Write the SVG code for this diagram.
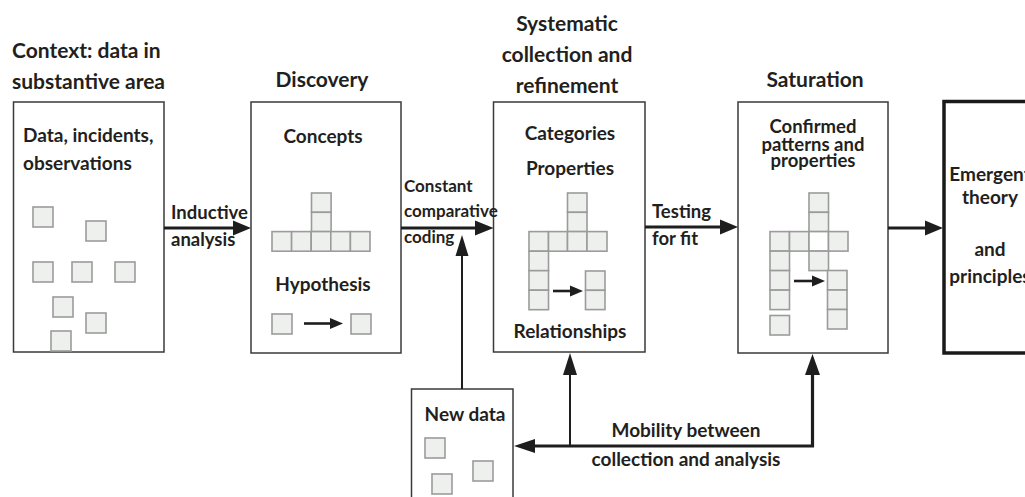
<svg xmlns="http://www.w3.org/2000/svg" width="1025" height="497" viewBox="0 0 1025 497">
  <style>
    text { font-family: Lato, "Open Sans", "Liberation Sans", sans-serif; font-weight: 700; font-size: 19px; fill: #231f20; }
    .title { font-size: 21px; }
    .label { font-size: 18.5px; }
    .label-sm { font-size: 17px; }
    .tight { font-size: 18.5px; }
    .mid { text-anchor: middle; }
    .box { fill: #ffffff; stroke: #3a3a3a; stroke-width: 1.5; }
    .box-final { fill: #ffffff; stroke: #1a1a1a; stroke-width: 3.5; }
    .sq { fill: #eef0ee; stroke: #9b9b9b; stroke-width: 1.6; }
    .sq-open { fill: #ffffff; stroke: #9b9b9b; stroke-width: 1.6; }
    .flow { fill: none; stroke: #1e1e1e; stroke-width: 3.2; }
    .flow-thin { fill: none; stroke: #1e1e1e; stroke-width: 2; }
    .flow-mini { fill: none; stroke: #1e1e1e; stroke-width: 2.6; }
    .head { fill: #1e1e1e; }
  </style>

  <!-- Stage 1: context -->
  <g id="context">
    <text class="title" x="12" y="58">Context: data in</text>
    <text class="title" x="12" y="89">substantive area</text>
    <rect class="box" x="13.5" y="102" width="150.5" height="250"/>
    <text x="23" y="142">Data, incidents,</text>
    <text x="23" y="170">observations</text>
    <rect class="sq" x="33" y="207" width="20" height="20"/>
    <rect class="sq" x="86" y="221" width="20" height="20"/>
    <rect class="sq" x="33" y="262" width="20" height="20"/>
    <rect class="sq" x="72" y="262" width="20" height="20"/>
    <rect class="sq" x="115" y="262" width="20" height="20"/>
    <rect class="sq" x="53" y="297" width="20" height="20"/>
    <rect class="sq" x="86" y="313" width="20" height="20"/>
    <rect class="sq" x="51" y="331" width="20" height="20"/>
  </g>

  <!-- Stage 2: discovery -->
  <g id="discovery">
    <text class="title mid" x="322" y="87">Discovery</text>
    <rect class="box" x="251" y="102" width="150" height="251"/>
    <text class="mid" x="323" y="143">Concepts</text>
    <rect class="sq" x="311.5" y="193" width="19.6" height="19.3"/>
    <rect class="sq" x="311.5" y="212.3" width="19.6" height="19.3"/>
    <rect class="sq" x="272" y="231.6" width="19.6" height="19.6"/>
    <rect class="sq" x="291.6" y="231.6" width="19.6" height="19.6"/>
    <rect class="sq" x="311.2" y="231.6" width="19.6" height="19.6"/>
    <rect class="sq" x="330.8" y="231.6" width="19.6" height="19.6"/>
    <rect class="sq" x="350.4" y="231.6" width="19.6" height="19.6"/>
    <text class="mid" x="323" y="291">Hypothesis</text>
    <rect class="sq" x="272" y="314" width="20" height="20"/>
    <rect class="sq" x="351" y="314" width="20" height="20"/>
    <line class="flow-mini" x1="304" y1="323.5" x2="332" y2="323.5"/>
    <polygon class="head" points="343,323.5 330,318 330,329"/>
  </g>

  <!-- Stage 3: systematic collection and refinement -->
  <g id="refinement">
    <text class="title mid" x="567" y="31">Systematic</text>
    <text class="title mid" x="567" y="62">collection and</text>
    <text class="title mid" x="567" y="93">refinement</text>
    <rect class="box" x="493.5" y="102" width="151.5" height="250"/>
    <text class="mid" x="570" y="140">Categories</text>
    <text class="mid" x="570" y="175">Properties</text>
    <rect class="sq" x="567.5" y="193" width="19.5" height="19.3"/>
    <rect class="sq" x="567.5" y="212.3" width="19.5" height="19.3"/>
    <rect class="sq" x="529" y="231.6" width="19.5" height="19.6"/>
    <rect class="sq" x="548.5" y="231.6" width="19" height="19.6"/>
    <rect class="sq" x="567.5" y="231.6" width="19.5" height="19.6"/>
    <rect class="sq" x="587" y="231.6" width="20" height="19.6"/>
    <rect class="sq" x="529" y="251.2" width="19.5" height="19.5"/>
    <rect class="sq" x="529" y="270.7" width="19.5" height="19.5"/>
    <rect class="sq" x="529" y="290.2" width="19.5" height="19.5"/>
    <rect class="sq" x="585.5" y="271" width="19.5" height="19.3"/>
    <rect class="sq" x="585.5" y="290.3" width="19.5" height="19.3"/>
    <line class="flow-mini" x1="553" y1="291" x2="572" y2="291"/>
    <polygon class="head" points="583,291 570,285.5 570,296.5"/>
    <text class="mid" x="570" y="338">Relationships</text>
  </g>

  <!-- Stage 4: saturation -->
  <g id="saturation">
    <text class="title mid" x="815" y="87">Saturation</text>
    <rect class="box" x="738" y="102" width="150" height="251"/>
    <text class="tight mid" x="813" y="133">Confirmed</text>
    <text class="tight mid" x="813" y="151">patterns and</text>
    <text class="tight mid" x="813" y="167">properties</text>
    <rect class="sq" x="809" y="193" width="19.5" height="19.3"/>
    <rect class="sq" x="809" y="212.3" width="19.5" height="19.3"/>
    <rect class="sq" x="770" y="231.6" width="19.5" height="19.5"/>
    <rect class="sq" x="789.5" y="231.6" width="19.5" height="19.5"/>
    <rect class="sq-open" x="809" y="231.6" width="19.5" height="19.5"/>
    <rect class="sq" x="828.5" y="231.6" width="19.5" height="19.5"/>
    <rect class="sq" x="809" y="251.1" width="19.5" height="19.5"/>
    <rect class="sq" x="770" y="251.1" width="19.5" height="19.5"/>
    <rect class="sq" x="770" y="270.6" width="19.5" height="19.5"/>
    <rect class="sq" x="770" y="290.1" width="19.5" height="19.5"/>
    <rect class="sq" x="770" y="315.5" width="19.5" height="19.5"/>
    <rect class="sq" x="827.5" y="270.5" width="19.5" height="19.5"/>
    <rect class="sq" x="827.5" y="290" width="19.5" height="19.5"/>
    <rect class="sq" x="827.5" y="309.5" width="19.5" height="19.5"/>
    <line class="flow-mini" x1="794" y1="281" x2="814" y2="281"/>
    <polygon class="head" points="825,281 812,275.5 812,286.5"/>
  </g>

  <!-- Stage 5: emergent theory -->
  <g id="theory">
    <rect class="box-final" x="944" y="101.5" width="100" height="251.5"/>
    <text class="mid" x="990" y="181">Emergent</text>
    <text class="mid" x="990" y="204">theory</text>
    <text class="mid" x="990" y="256">and</text>
    <text class="mid" x="990" y="283">principles</text>
  </g>

  <!-- New data -->
  <g id="new-data">
    <rect class="box" x="411.5" y="389" width="101.5" height="120"/>
    <text class="mid" x="465" y="421">New data</text>
    <rect class="sq" x="425" y="438" width="20" height="20"/>
    <rect class="sq" x="473" y="461" width="20" height="20"/>
    <rect class="sq" x="432" y="474" width="20" height="20"/>
  </g>

  <!-- Connectors -->
  <g id="connectors">
    <!-- Inductive analysis -->
    <line class="flow" x1="164" y1="228" x2="236" y2="228"/>
    <polygon class="head" points="251,228 233,220.5 233,235.5"/>
    <text class="label" x="171" y="219">Inductive</text>
    <text class="label" x="171" y="246">analysis</text>

    <!-- Constant comparative coding -->
    <line class="flow" x1="401" y1="228" x2="478" y2="228"/>
    <polygon class="head" points="493.5,228 475,220.5 475,235.5"/>
    <text class="label-sm" x="404" y="192">Constant</text>
    <text class="label-sm" x="404" y="217">comparative</text>
    <text class="label-sm" x="404" y="243">coding</text>

    <!-- New data feeding coding -->
    <line class="flow-thin" x1="462" y1="389" x2="462" y2="252"/>
    <polygon class="head" points="462,235 455.5,256 468.5,256"/>

    <!-- Testing for fit -->
    <line class="flow" x1="645" y1="227" x2="722" y2="227"/>
    <polygon class="head" points="738,227 720,219.5 720,234.5"/>
    <text class="label" x="652" y="218">Testing</text>
    <text class="label" x="652" y="245">for fit</text>

    <!-- Saturation to theory -->
    <line class="flow" x1="888" y1="228" x2="928" y2="228"/>
    <polygon class="head" points="943,228 925,220.5 925,235.5"/>

    <!-- Mobility between collection and analysis -->
    <polyline class="flow" points="812.5,370 812.5,446 530,446"/>
    <polygon class="head" points="514,446 535,439 535,453"/>
    <polygon class="head" points="812.5,354 805,375 820,375"/>
    <line class="flow-thin" x1="570" y1="446" x2="570" y2="372"/>
    <polygon class="head" points="570,353 563,375 577,375"/>
    <text class="mid" x="686" y="437">Mobility between</text>
    <text class="mid" x="686" y="466">collection and analysis</text>
  </g>
</svg>
